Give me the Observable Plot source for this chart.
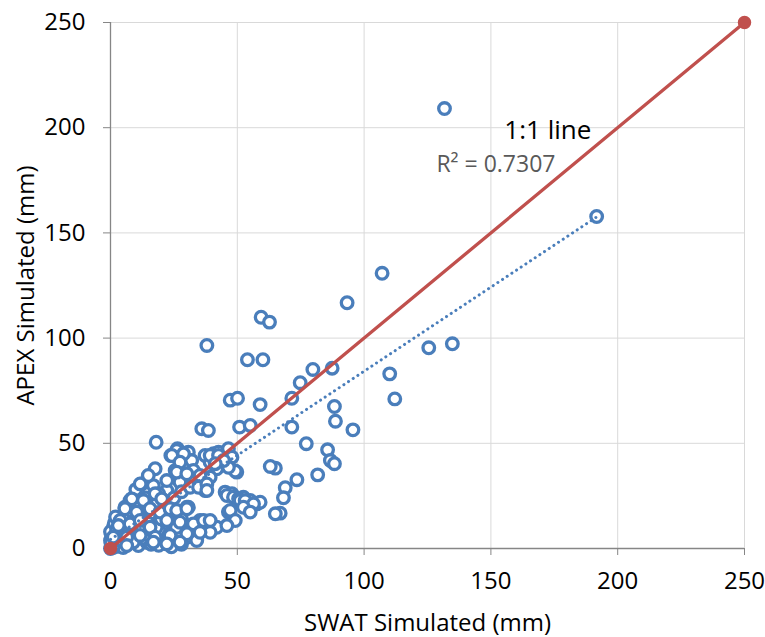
<!DOCTYPE html>
<html><head><meta charset="utf-8">
<script src="https://cdn.jsdelivr.net/npm/d3@7"></script>
<script src="https://cdn.jsdelivr.net/npm/@observablehq/plot@0.6"></script>
<style>body{margin:0;background:#fff}</style>
</head><body><div id="chart"></div>
<script>
// SWAT simulated (x) and APEX simulated (y), mm
const swat = [131.7,191.7,107.1,93.3,59.4,62.7,38,54,60.1,125.5,134.8,110.1,79.8,87.4,74.8,112.1,71.5,47.2,50.1,59,88.3,88.7,95.6,71.5,77.2,85.6,86.7,88.3,65,63,73.5,81.7,68.9,68.2,66.9,36,38.6,50.9,55.1,18,
23.8,26.4,29.4,30.7,32,37.3,39.3,40.6,42.6,43.9,46.5,47.9,45.2,41.9,49.8,49.2,32,36,46.5,17.6,25.5,30.1,32.7,39.3,12.3,16.9,22.2,27.4,32.1,37.3,22.2,34.7,37.3,45.2,47.9,52.4,55.1,57.7,59,45.9,48.5,50.5,51.1,53.1,56.4,
5.7,8.4,10.3,13.6,15.6,18.2,20.9,24.2,26.8,30.1,30.7,35.3,38,41.9,46.5,47.2,49.2,52.4,55.1,65,34.7,32,30.7,
1.1,3.8,7.7,11.7,16.9,20.2,22.8,27.4,31.4,34,39.3,
0,3.1,6.4,11,14.3,18.2,22.2,26.1,30.1,34,
0,0.5,1,0.3,2.4,0,1.5,5,2,7.7,11,13,4,8,9,12,15,18,20,24,26,28,19,14,21,25,28,10,7,3,5,9,2,1,0.2,13,16,24,28,19,
26.1,28.8,24.2,27.4,39.3,42.6,44.6,41.3,14.9,11.7,8.4,5.7,3.8,2.4,26.1,30.1,35.3,31.4,34.7,38,38,17.6,20.2,13,15.6,10.3,19.5,23.5,26.1,30.1,
7.7,11.7,15.6,22.2,27.4,32.7,36.7,45.9,3.1,1.1,6.4,11.7,17.6,23.5,30.1,35.3,39.3,6.4,16.9,22.2,27.4];
const apex = [209.1,157.8,130.8,116.8,109.9,107.6,96.5,89.7,89.7,95.4,97.3,83,85.1,85.7,78.8,71.1,71.4,70.5,71.4,68.4,67.5,60.5,56.4,57.7,49.8,46.9,41.8,40.3,38.2,39,32.7,35,28.9,24.1,16.8,56.9,56.1,57.7,58.5,50.5,
44.2,47.4,45,45.8,41.8,44.2,41,45,45.8,43.1,47.4,43.4,40.3,37.9,36.3,36.8,36.3,33.9,38.6,37.9,37.1,34.7,37.1,33.9,30.7,29.9,27.6,31.5,32.3,29.1,32.3,30.7,27.6,26.8,26,24.4,22.8,21.2,22,25.2,24.4,23.6,22.8,22.8,21.2,
19.6,23.6,17.3,18.9,16.5,21.2,22.8,19.6,17.3,19.6,19.6,13.3,12.5,10.1,17.3,18.1,13.3,19.6,17.3,16.5,11.7,6.2,7.7,
10.1,10.9,10.1,8.6,7,7,6.2,7.7,7.7,4.6,7.7,
3.8,2.2,2.2,1.4,3,3.8,3,3,5.4,3.8,
0,1,2,5,6.2,8,12,14,15,22.8,17.3,13.3,5,6,13,11,12,10,14,12,10,14,26,24,18,24,27,28,9,1,0.5,3,3,0.5,2.5,5,2,0.8,2,1.5,
46.6,45,44.2,41,44.2,44.2,41.8,40.3,34.7,30.7,23.6,18.9,13.3,8.6,36.3,35.5,34.7,29.1,29.1,30.7,27.6,26,23.6,22.8,18.9,17.3,17.3,18.9,18.1,18.9,
11.7,13.3,10.1,13.3,12.5,11.7,13.3,10.9,10.9,5.4,5.4,6.2,5.4,6.2,7,7.7,13.3,1.4,3,2.2,3];

const ticks = [0, 50, 100, 150, 200, 250];
const oneToOneX = [0, 250];
const oneToOneY = [0, 250];
const trendX = [0, 192];
const trendY = [4.3, 157.8];
const noteText = ["1:1 line", "R² = 0.7307"];
const noteX = [155.3, 128.5];
const noteY = [198.5, 182.5];

const points = swat.map((x, i) => ({x, y: apex[i]}));
const oneToOne = oneToOneX.map((x, i) => ({x, y: oneToOneY[i]}));
const trend = trendX.map((x, i) => ({x, y: trendY[i]}));

const font = "'Open Sans', sans-serif";
const plot = Plot.plot({
  width: 765, height: 637,
  marginLeft: 110, marginRight: 21, marginTop: 22, marginBottom: 89,
  x: {domain: [0, 250]},
  y: {domain: [0, 250]},
  style: {fontFamily: font, fontSize: "24px", color: "#000", background: "#fff", overflow: "visible"},
  marks: [
    Plot.gridX(ticks, {stroke: "#d9d9d9", strokeOpacity: 1, strokeWidth: 1}),
    Plot.gridY(ticks, {stroke: "#d9d9d9", strokeOpacity: 1, strokeWidth: 1}),
    Plot.ruleX([0], {stroke: "#868686", strokeWidth: 1.3}),
    Plot.ruleY([0], {stroke: "#868686", strokeWidth: 1.3}),
    Plot.axisX(ticks, {tickSize: 7, tickPadding: 16, stroke: "#868686", fontSize: 24, fill: "#000",
      label: "SWAT Simulated (mm)", labelAnchor: "center", labelOffset: 82, labelArrow: "none"}),
    Plot.axisY(ticks, {tickSize: 7, tickPadding: 18, stroke: "#868686", fontSize: 24, fill: "#000",
      label: "APEX Simulated (mm)", labelAnchor: "center", labelOffset: 94, labelArrow: "none"}),
    Plot.dot(points, {x: "x", y: "y", r: 5.8, stroke: "#4a7ebb", strokeWidth: 3.3, fill: "white"}),
    Plot.line(trend, {x: "x", y: "y", stroke: "#4a7ebb", strokeWidth: 3, strokeDasharray: "0.1 5.5", strokeLinecap: "round"}),
    Plot.line(oneToOne, {x: "x", y: "y", stroke: "#c0504d", strokeWidth: 3.3}),
    Plot.dot(oneToOne, {x: "x", y: "y", r: 6, fill: "#c0504d", stroke: "#c0504d"}),
    Plot.text([0], {x: () => noteX[0], y: () => noteY[0], text: () => noteText[0], textAnchor: "start", fill: "#000", fontSize: 26}),
    Plot.text([1], {x: () => noteX[1], y: () => noteY[1], text: () => noteText[1], textAnchor: "start", fill: "#595959", fontSize: 23})
  ]
});
document.getElementById("chart").appendChild(plot);
</script>
</body></html>
